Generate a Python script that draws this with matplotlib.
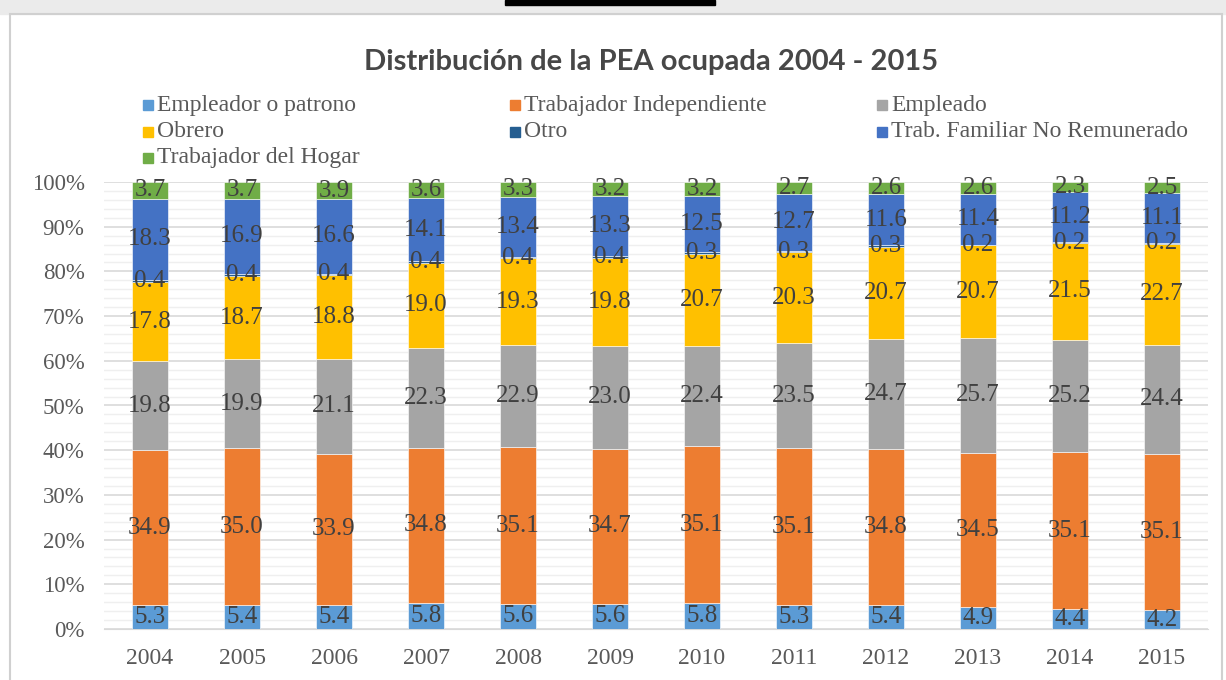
import numpy as np
import matplotlib.pyplot as plt
from matplotlib.patches import Rectangle
from matplotlib.ticker import MultipleLocator, PercentFormatter

# data (percent of employed labour force)
years = ["2004", "2005", "2006", "2007", "2008", "2009", "2010", "2011", "2012", "2013", "2014", "2015"]
empleador = [5.3, 5.4, 5.4, 5.8, 5.6, 5.6, 5.8, 5.3, 5.4, 4.9, 4.4, 4.2]
independiente = [34.9, 35.0, 33.9, 34.8, 35.1, 34.7, 35.1, 35.1, 34.8, 34.5, 35.1, 35.1]
empleado = [19.8, 19.9, 21.1, 22.3, 22.9, 23.0, 22.4, 23.5, 24.7, 25.7, 25.2, 24.4]
obrero = [17.8, 18.7, 18.8, 19.0, 19.3, 19.8, 20.7, 20.3, 20.7, 20.7, 21.5, 22.7]
otro = [0.4, 0.4, 0.4, 0.4, 0.4, 0.4, 0.3, 0.3, 0.3, 0.2, 0.2, 0.2]
familiar = [18.3, 16.9, 16.6, 14.1, 13.4, 13.3, 12.5, 12.7, 11.6, 11.4, 11.2, 11.1]
hogar = [3.7, 3.7, 3.9, 3.6, 3.3, 3.2, 3.2, 2.7, 2.6, 2.6, 2.3, 2.5]

series = [
    ("Empleador o patrono", empleador, "#5B9BD5"),
    ("Trabajador Independiente", independiente, "#ED7D31"),
    ("Empleado", empleado, "#A5A5A5"),
    ("Obrero", obrero, "#FFC000"),
    ("Otro", otro, "#255E91"),
    ("Trab. Familiar No Remunerado", familiar, "#4472C4"),
    ("Trabajador del Hogar", hogar, "#70AD47"),
]

SERIF = "Liberation Serif"
GRAY = "#595959"

W, H = 1226, 680
fig = plt.figure(figsize=(W / 100, H / 100), dpi=100)

# light band and frame of the original screenshot
fig.patches.append(Rectangle((0, 1 - 14 / H), 1, 14 / H, transform=fig.transFigure,
                             color="#ebebeb", zorder=0))
fig.patches.append(Rectangle((505 / W, 1 - 5 / H), 210 / W, 5 / H, transform=fig.transFigure,
                             color="black", zorder=1))
fig.patches.append(Rectangle((10 / W, -0.01), 1212 / W, 1 - 14 / H + 0.01, transform=fig.transFigure,
                             fill=False, edgecolor="#d0d0d0", lw=1.5, zorder=1))

ax = fig.add_axes([104 / W, 1 - 629 / H, 1104 / W, 447 / H])

x = np.arange(len(years))
totals = np.sum([s[1] for s in series], axis=0)
bottom = np.zeros(len(years))
for name, vals, col in series:
    vals = np.array(vals)
    share = vals / totals
    ax.bar(x, share, 0.4, bottom=bottom, color=col, edgecolor="white", linewidth=0.4,
           label=name, zorder=3)
    for xi, b, s, v in zip(x, bottom, share, vals):
        ax.text(xi, b + s / 2, f"{v:.1f}", ha="center", va="center", fontsize=18,
                family=SERIF, color="#404040", zorder=4)
    bottom += share

ax.set_xlim(-0.5, len(years) - 0.5)
ax.set_ylim(0, 1)
ax.yaxis.set_major_locator(MultipleLocator(0.1))
ax.yaxis.set_minor_locator(MultipleLocator(0.02))
ax.yaxis.set_major_formatter(PercentFormatter(1.0, decimals=0))
ax.grid(axis="y", which="major", color="#d9d9d9", lw=1.2, zorder=0)
ax.grid(axis="y", which="minor", color="#efefef", lw=1.0, zorder=0)
ax.set_xticks(x, years)
for sp in ["top", "right", "left"]:
    ax.spines[sp].set_visible(False)
ax.spines["bottom"].set_color("#d9d9d9")
ax.tick_params(axis="y", which="both", length=0, pad=14, labelsize=16.5, labelcolor=GRAY)
ax.tick_params(axis="x", length=0, pad=14, labelsize=17, labelcolor=GRAY)
for lab in ax.get_xticklabels() + ax.get_yticklabels():
    lab.set_family(SERIF)

fig.text(651 / W, 1 - 62 / H, "Distribución de la PEA ocupada 2004 - 2015", ha="center", va="center",
         fontsize=21, fontweight="bold", family="Lato", color="#474747")

# legend laid out in rows of three, as in the original
for i, (name, vals, col) in enumerate(series):
    c, r = i % 3, i // 3
    lx = 148 + c * 367
    ly = 105 + r * 26.5
    fig.patches.append(Rectangle(((lx - 5) / W, 1 - (ly + 5) / H), 10 / W, 10 / H,
                                 transform=fig.transFigure, color=col))
    fig.text((lx + 9) / W, 1 - ly / H, name, ha="left", va="center", fontsize=17,
             family=SERIF, color=GRAY)

fig.savefig("out.png", dpi=100)
